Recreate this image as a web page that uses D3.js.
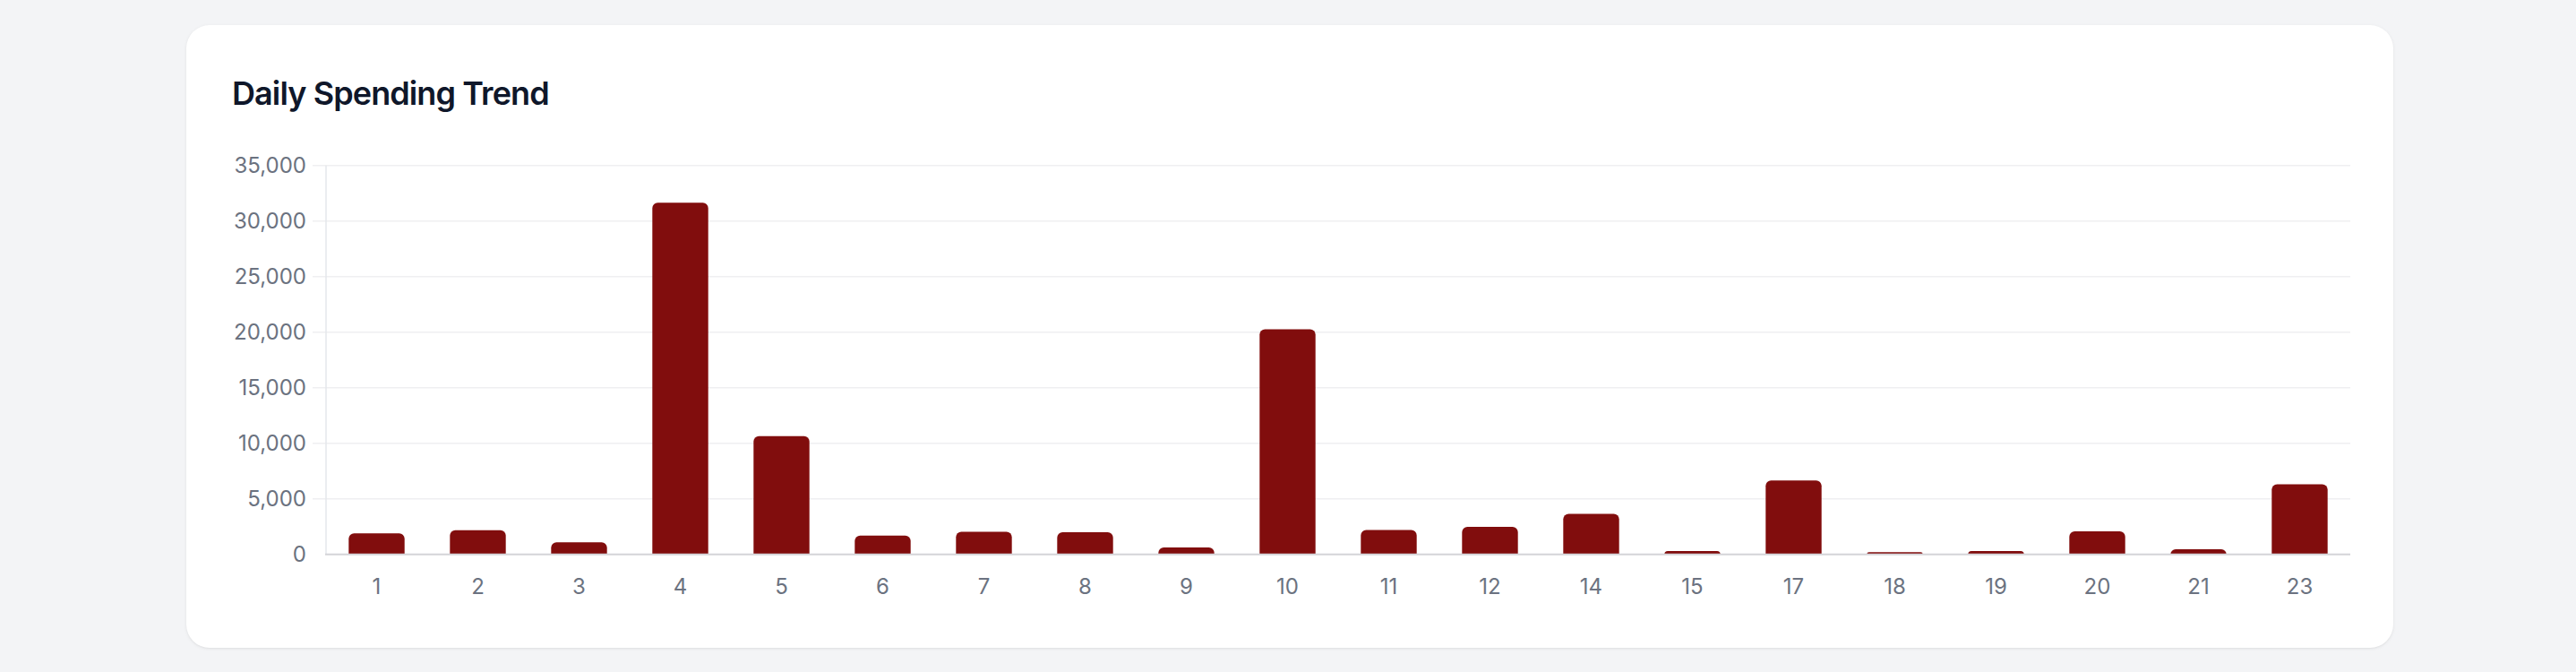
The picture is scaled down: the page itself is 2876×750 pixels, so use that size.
<!DOCTYPE html>
<html>
<head>
<meta charset="utf-8">
<script src="https://cdn.jsdelivr.net/npm/d3@7"></script>
<style>
  html, body { margin: 0; padding: 0; }
  body {
    width: 2876px; height: 750px; overflow: hidden;
    background: #f3f4f6;
    font-family: Inter, "Noto Sans", sans-serif;
    position: relative;
  }
  .card {
    position: absolute; left: 208px; top: 28px;
    width: 2464px; height: 695px;
    background: #fff; border-radius: 26px;
    box-shadow: 0 1px 4px rgba(0,0,0,0.06), 0 1px 2px rgba(0,0,0,0.04);
  }
  .card h2 {
    position: absolute; left: 51px; top: 58px; margin: 0;
    font-size: 36px; font-weight: 600; line-height: 1;
    letter-spacing: -0.025em;
    color: #0f172a;
  }
  #chart { position: absolute; left: 0; top: 0; }
</style>
</head>
<body>
<div class="card"><h2>Daily Spending Trend</h2></div>
<svg id="chart" width="2876" height="750"></svg>
<script>
const days = ["1", "2", "3", "4", "5", "6", "7", "8", "9", "10", "11", "12", "14", "15", "17", "18", "19", "20", "21", "23"];
const spending = [1900, 2180, 1080, 31650, 10640, 1690, 2040, 1990, 620, 20260, 2200, 2470, 3650, 300, 6640, 190, 300, 2070, 460, 6310];
const yTicks = [0, 5000, 10000, 15000, 20000, 25000, 30000, 35000];

const plotLeft = 364, plotRight = 2624, plotTop = 184.7, plotBottom = 618.7;
const barColor = "#810d0d";

const svg = d3.select("#chart");

const x = d3.scaleBand()
    .domain(days)
    .range([plotLeft, plotRight])
    .paddingInner(0.448)
    .paddingOuter(0.224);

const y = d3.scaleLinear()
    .domain([0, 35000])
    .range([plotBottom, plotTop]);

// grid lines
svg.append("g")
    .selectAll("line")
    .data(yTicks.slice(1))
    .join("line")
    .attr("x1", plotLeft - 15)
    .attr("x2", plotRight)
    .attr("y1", d => y(d))
    .attr("y2", d => y(d))
    .attr("stroke", "#efeff1")
    .attr("stroke-width", 1.5);

// y axis line
svg.append("line")
    .attr("x1", plotLeft).attr("x2", plotLeft)
    .attr("y1", plotTop).attr("y2", plotBottom)
    .attr("stroke", "#e5e7eb")
    .attr("stroke-width", 1.5);

// y labels
svg.append("g")
    .selectAll("text")
    .data(yTicks)
    .join("text")
    .attr("x", plotLeft - 22)
    .attr("y", d => y(d))
    .attr("dy", "0.36em")
    .attr("text-anchor", "end")
    .attr("font-size", 24)
    .attr("fill", "#6b7280")
    .text(d3.format(","));

// bars, top corners rounded
const barPath = (x0, y0, w, h, r) => {
    r = Math.min(r, h, w / 2);
    return `M${x0},${y0 + h}V${y0 + r}A${r},${r} 0 0 1 ${x0 + r},${y0}` +
        `H${x0 + w - r}A${r},${r} 0 0 1 ${x0 + w},${y0 + r}V${y0 + h}Z`;
};

svg.append("g")
    .selectAll("path")
    .data(days.map((d, i) => ({ day: d, value: spending[i] })))
    .join("path")
    .attr("fill", barColor)
    .attr("d", d => barPath(x(d.day), y(d.value), x.bandwidth(), y(0) - y(d.value), 6));

// x axis line
svg.append("line")
    .attr("x1", plotLeft - 1).attr("x2", plotRight)
    .attr("y1", plotBottom).attr("y2", plotBottom)
    .attr("stroke", "#d4d4d8")
    .attr("stroke-width", 2);

// x labels
svg.append("g")
    .selectAll("text")
    .data(days)
    .join("text")
    .attr("x", d => x(d) + x.bandwidth() / 2)
    .attr("y", 663)
    .attr("text-anchor", "middle")
    .attr("font-size", 24)
    .attr("fill", "#6b7280")
    .text(d => d);
</script>
</body>
</html>
